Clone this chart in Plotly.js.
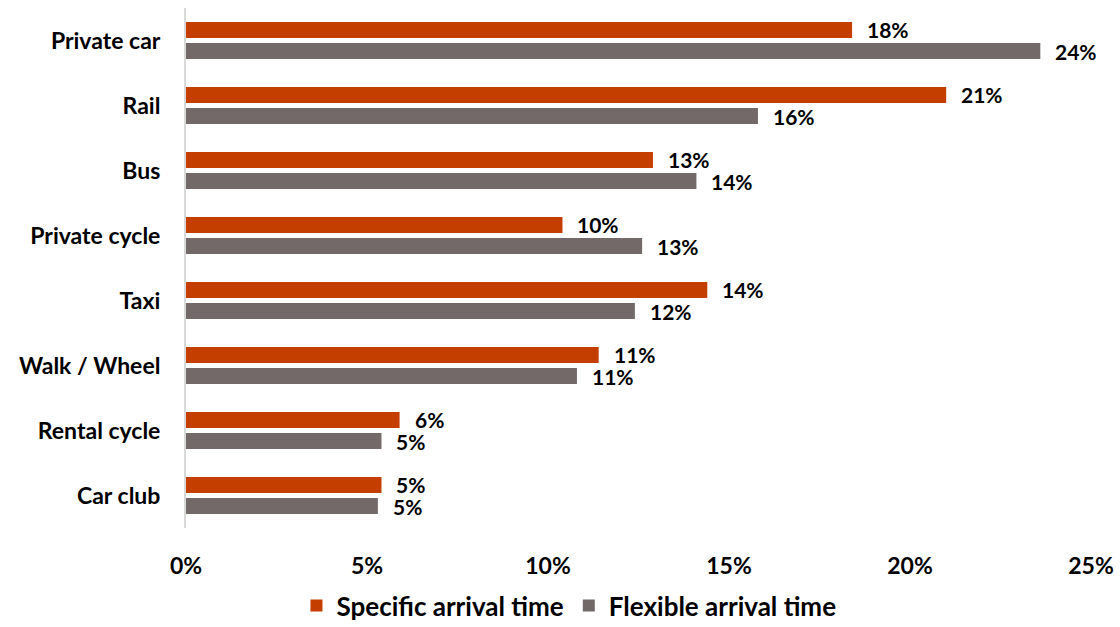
<!DOCTYPE html>
<html>
<head>
<meta charset="utf-8">
<script src="https://cdn.plot.ly/plotly-3.0.1.min.js"></script>
<style>
  html, body { margin: 0; padding: 0; background: #ffffff; }
  #chart { width: 1120px; height: 627px; }
</style>
</head>
<body>
<div id="chart"></div>
<script>
// Travel mode shares by arrival-time type (percent)
const modes = ["Private car", "Rail", "Bus", "Private cycle", "Taxi", "Walk / Wheel", "Rental cycle", "Car club"];
const specificArrival = [18.4, 21.0, 12.9, 10.4, 14.4, 11.4, 5.9, 5.4];
const flexibleArrival = [23.6, 15.8, 14.1, 12.6, 12.4, 10.8, 5.4, 5.3];
const seriesNames = ["Specific arrival time", "Flexible arrival time"];
const tickVals = [0, 5, 10, 15, 20, 25];
const tickText = ["0%", "5%", "10%", "15%", "20%", "25%"];

const FONT = "Lato, 'DejaVu Sans', sans-serif";
const ORANGE = "#C43E00";
const GREY = "#736969";
const SIZE = 23;

const traces = [
  {
    type: "bar", orientation: "h", name: seriesNames[0],
    y: modes, x: specificArrival, marker: { color: ORANGE },
    hoverinfo: "x+y"
  },
  {
    type: "bar", orientation: "h", name: seriesNames[1],
    y: modes, x: flexibleArrival, marker: { color: GREY },
    hoverinfo: "x+y"
  }
];

// value labels to the right of each bar, placed in data coordinates
const annotations = [];
[specificArrival, flexibleArrival].forEach((vals, s) => {
  vals.forEach((v, i) => {
    annotations.push({
      x: v, y: modes[i], xref: "x", yref: "y",
      text: Math.round(v) + "%",
      showarrow: false, xanchor: "left", yanchor: "middle",
      xshift: 14, yshift: s === 0 ? 11 : -11,
      borderpad: 0,
      font: { family: FONT, size: 21, color: "#000000", weight: 700 }
    });
  });
});

const layout = {
  width: 1120, height: 627,
  margin: { l: 186, r: 29, t: 8, b: 99 },
  paper_bgcolor: "#ffffff", plot_bgcolor: "#ffffff",
  barmode: "group", bargap: 0.354, bargroupgap: 0.24,
  xaxis: {
    range: [0, 25], tickvals: tickVals, ticktext: tickText,
    showgrid: false, zeroline: false, showline: false,
    ticks: "", ticklen: 0, ticklabelstandoff: 22, fixedrange: true,
    tickfont: { family: FONT, size: SIZE, color: "#000000", weight: 700 }
  },
  yaxis: {
    autorange: "reversed", showgrid: false, zeroline: false,
    showline: true, linecolor: "#d9d9d9", linewidth: 2,
    ticks: "", ticklen: 0, ticklabelstandoff: 19, fixedrange: true,
    tickfont: { family: FONT, size: SIZE, color: "#000000", weight: 700 }
  },
  legend: {
    orientation: "h", xref: "container", yref: "container",
    x: 0.508, xanchor: "center", y: 0.034, yanchor: "middle",
    traceorder: "normal",
    font: { family: FONT, size: 26, color: "#000000", weight: 700 },
    itemwidth: 30
  },
  annotations: annotations,
  showlegend: true
};

Plotly.newPlot("chart", traces, layout, { displayModeBar: false, staticPlot: true });
</script>
</body>
</html>
